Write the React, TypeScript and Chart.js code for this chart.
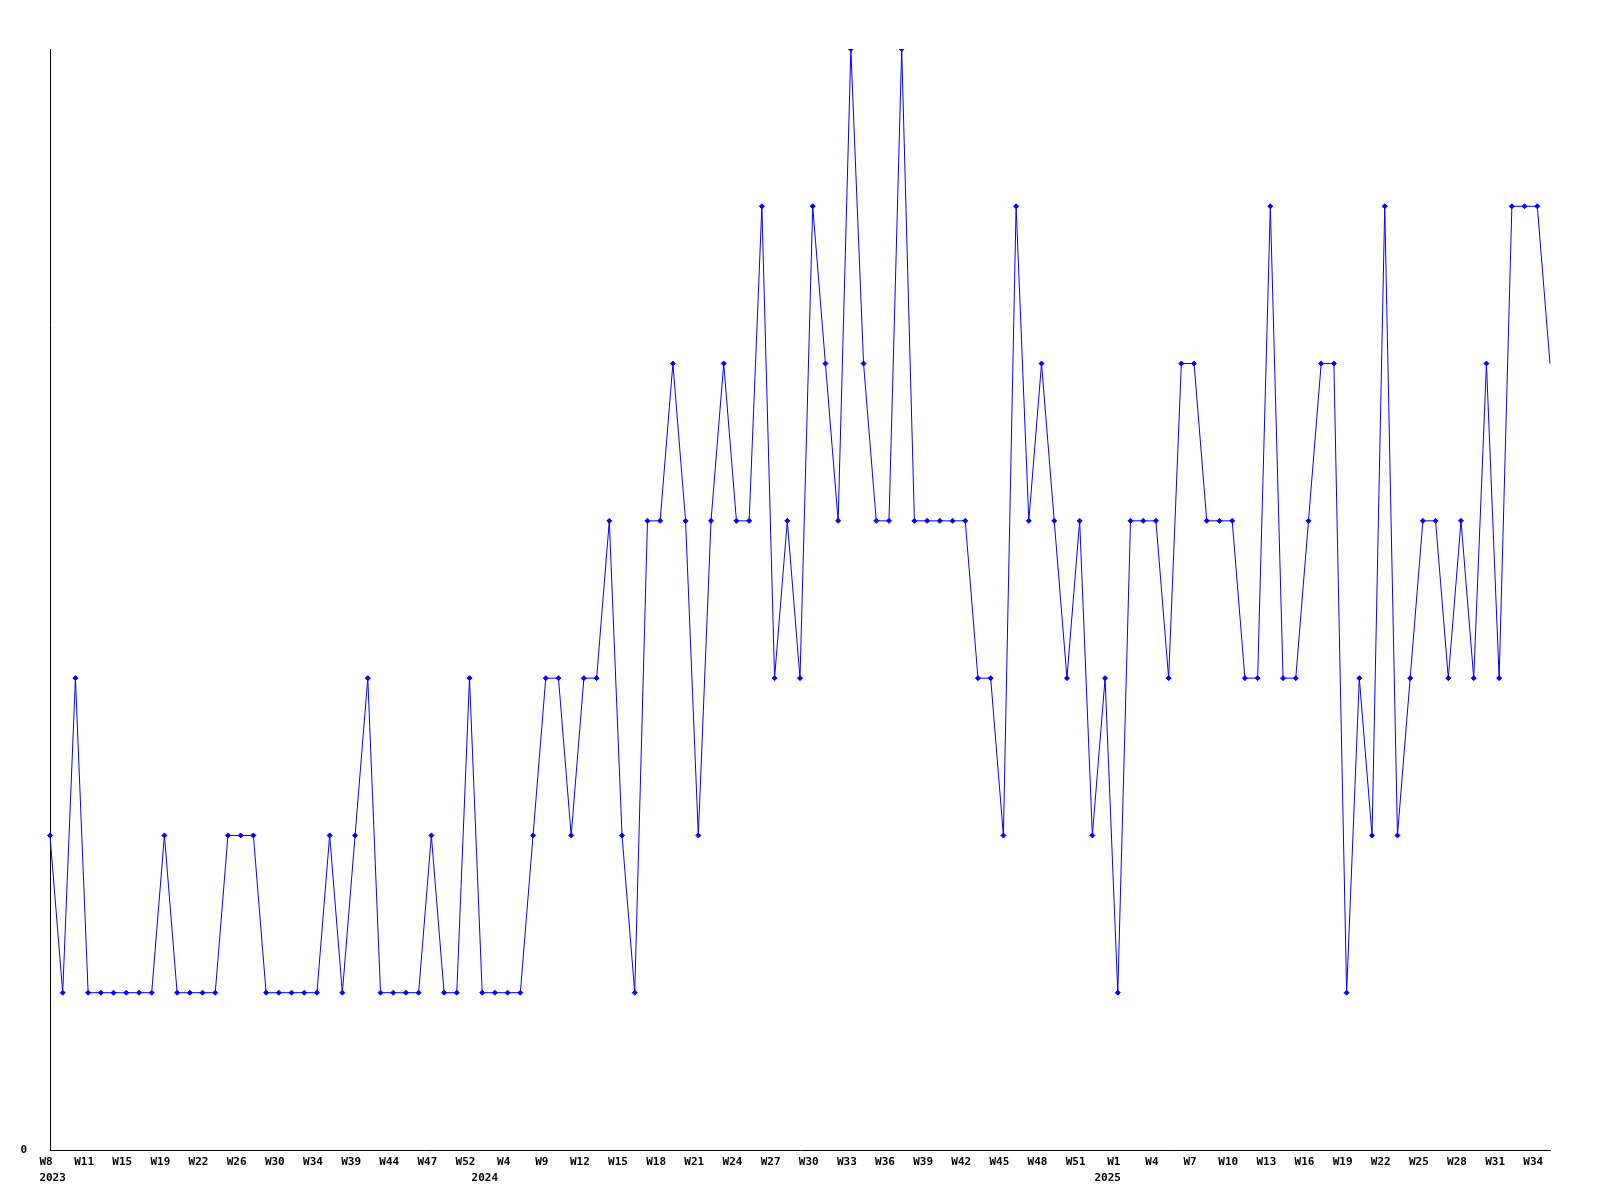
import React, { useEffect, useRef } from 'react';
import { Chart, registerables } from 'chart.js';

Chart.register(...registerables);

// Week numbers present in the data, per year
const weeks2023 = [8, 9, 10, 11, 12, 13, 15, 16, 17, 19, 20, 21, 22, 23, 24, 26, 27, 28, 30, 31, 32, 34, 35, 37, 39, 40, 42, 44, 45, 46, 47, 49, 50, 52];
const weeks2024 = [1, 2, 4, 6, 7, 9, 10, 11, 12, 13, 14, 15, 16, 17, 18, 19, 20, 21, 22, 23, 24, 25, 26, 27, 28, 29, 30, 31, 32, 33, 34, 35, 36, 37, 38, 39, 40, 41, 42, 43, 44, 45, 46, 47, 48, 49, 50, 51, 52];
const weeks2025 = [0, 1, 2, 3, 4, 5, 6, 7, 8, 9, 10, 11, 12, 13, 14, 15, 16, 17, 18, 19, 20, 21, 22, 23, 24, 25, 26, 27, 28, 29, 30, 31, 32, 33, 34, 35];
const years = ['2023', '2024', '2025'];

// Weekly counts
const values = [
  2, 1, 3, 1, 1, 1, 1, 1, 1, 2,
  1, 1, 1, 1, 2, 2, 2, 1, 1, 1,
  1, 1, 2, 1, 2, 3, 1, 1, 1, 1,
  2, 1, 1, 3, 1, 1, 1, 1, 2, 3,
  3, 2, 3, 3, 4, 2, 1, 4, 4, 5,
  4, 2, 4, 5, 4, 4, 6, 3, 4, 3,
  6, 5, 4, 7, 5, 4, 4, 7, 4, 4,
  4, 4, 4, 3, 3, 2, 6, 4, 5, 4,
  3, 4, 2, 3, 1, 4, 4, 4, 3, 5,
  5, 4, 4, 4, 3, 3, 6, 3, 3, 4,
  5, 5, 1, 3, 2, 6, 2, 3, 4, 4,
  3, 4, 3, 5, 3, 6, 6, 6, 5,
];

const yMin = 0;
const yMax = 7;
const yTickValues = [0];
const tickEvery = 3;

const categories: string[] = [];
const weekOf: number[] = [];
const yearStart: Record<number, string> = {};
[weeks2023, weeks2024, weeks2025].forEach((ws, yi) => {
  yearStart[categories.length] = years[yi];
  ws.forEach((w) => {
    categories.push(`${years[yi]}-W${w}`);
    weekOf.push(w);
  });
});

export default function App() {
  const ref = useRef<HTMLCanvasElement | null>(null);
  useEffect(() => {
    if (!ref.current) return;
    const font = { family: "'DejaVu Sans Mono', monospace", size: 11, weight: 'bold' as const, lineHeight: 1.45 };
    const chart = new Chart(ref.current, {
      type: 'line',
      data: {
        labels: categories,
        datasets: [
          {
            data: values,
            borderColor: '#0000ff',
            backgroundColor: '#0000ff',
            borderWidth: 1,
            tension: 0,
            fill: false,
            pointStyle: 'rectRot',
            pointRadius: values.map((_, i) => (i === values.length - 1 ? 0 : 2.5)),
            pointBorderWidth: 1,
            pointBackgroundColor: '#0000ff',
            pointBorderColor: '#0000ff',
          },
        ],
      },
      options: {
        animation: false,
        responsive: false,
        devicePixelRatio: 1,
        layout: { padding: { left: 0, top: 49, right: 50, bottom: 0 } },
        plugins: { legend: { display: false }, tooltip: { enabled: false } },
        scales: {
          x: {
            type: 'category',
            offset: false,
            grid: { display: false, drawTicks: false },
            border: { display: true, color: '#000', width: 1 },
            afterFit: (s: any) => { s.height = 50; },
            ticks: {
              autoSkip: false,
              maxRotation: 0,
              minRotation: 0,
              padding: 4,
              labelOffset: -4,
              color: '#000',
              font,
              callback: (_v: any, i: number) => {
                const wk = i % tickEvery === 0 ? `W${weekOf[i]}` : '';
                const yr = yearStart[i];
                if (yr) return [wk, '  ' + yr];
                return wk;
              },
            },
          },
          y: {
            min: yMin,
            max: yMax,
            grid: { display: false, drawTicks: false },
            border: { display: true, color: '#000', width: 1 },
            afterFit: (s: any) => { s.width = 50; },
            afterBuildTicks: (s: any) => { s.ticks = yTickValues.map((v) => ({ value: v })); },
            ticks: {
              padding: 23,
              color: '#000',
              font,
              callback: (v: any) => String(v),
            },
          },
        },
      },
    });
    return () => chart.destroy();
  }, []);
  return (
    <div style={{ position: 'absolute', left: 0, top: 0, width: 1600, height: 1200, background: '#fff' }}>
      <canvas ref={ref} width={1600} height={1200} style={{ width: 1600, height: 1200 }} />
    </div>
  );
}
